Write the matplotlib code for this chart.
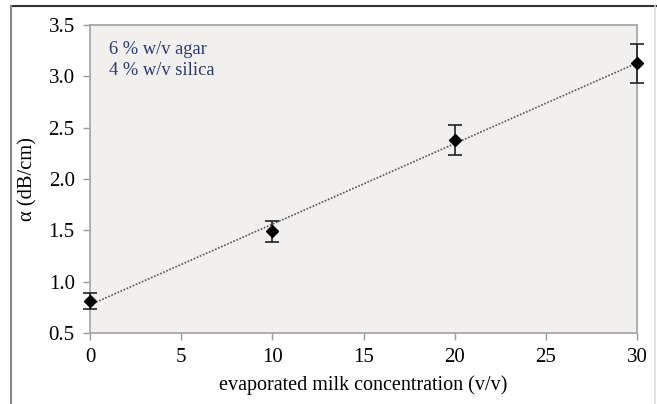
import numpy as np
import matplotlib
matplotlib.use("Agg")
import matplotlib.pyplot as plt
from matplotlib.lines import Line2D

# Data
concentration = [0, 10, 20, 30]
alpha = [0.81, 1.49, 2.38, 3.13]
alpha_err = [0.08, 0.105, 0.145, 0.19]
x_ticks = [0, 5, 10, 15, 20, 25, 30]
y_ticks = [0.5, 1.0, 1.5, 2.0, 2.5, 3.0, 3.5]
notes = ["6 % w/v agar", "4 % w/v silica"]

plt.rcParams['font.family'] = ['Liberation Serif', 'DejaVu Serif']

fig = plt.figure(figsize=(6.57, 4.04), dpi=100)
ax = fig.add_axes([0.137, 0.1757, 0.8326, 0.7623])
ax.set_facecolor('#f1f0ee')

# Linear trendline
coef = np.polyfit(concentration, alpha, 1)
xs = np.array([concentration[0], concentration[-1]])
ax.plot(xs, np.polyval(coef, xs), linestyle=(0, (1, 1)), color='#555555', linewidth=1.2, zorder=2)

ax.errorbar(concentration, alpha, yerr=alpha_err, fmt='D', color='black', markersize=6,
            ecolor='#222222', elinewidth=1.2, capsize=5, capthick=1.2, zorder=3, clip_on=False)

ax.set_xlim(0, 30)
ax.set_ylim(0.5, 3.5)
ax.set_xticks(x_ticks)
ax.set_yticks(y_ticks)
ax.set_xticklabels([str(t) for t in x_ticks])
ax.set_yticklabels([f"{t:.1f}" for t in y_ticks])
ax.tick_params(direction='out', length=5, width=1, color='#999999', labelsize=15, pad=6)
for s in ax.spines.values():
    s.set_color('#a8a8a8')
    s.set_linewidth(1.3)

ax.set_xlabel("evaporated milk concentration (v/v)", fontsize=14.5, labelpad=6)
ax.set_ylabel("α (dB/cm)", fontsize=14.8, labelpad=8)

ax.text(0.035, 0.906, notes[0], transform=ax.transAxes, fontsize=13.3, color='#2b3a6b', va='baseline')
ax.text(0.035, 0.838, notes[1], transform=ax.transAxes, fontsize=13.3, color='#2b3a6b', va='baseline')

# Outer frame
fig.add_artist(Line2D([0.0167, 1.0], [0.984, 0.984], transform=fig.transFigure, color='#333333', linewidth=1.5))
fig.add_artist(Line2D([0.0167, 0.0167], [0.0, 0.984], transform=fig.transFigure, color='#888888', linewidth=1.5))
fig.add_artist(Line2D([0.997, 0.997], [0.0, 0.984], transform=fig.transFigure, color='#dddddd', linewidth=1.2))

fig.savefig("out.png", dpi=100)
